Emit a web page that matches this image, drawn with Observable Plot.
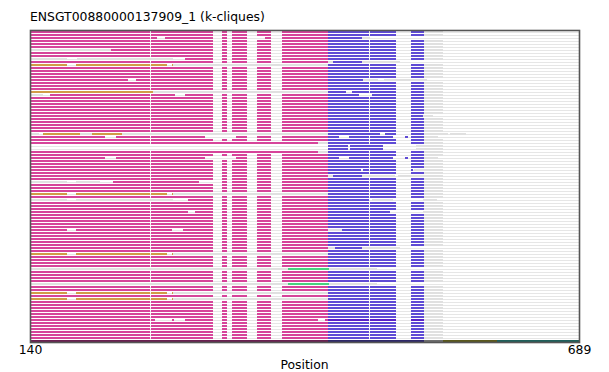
<!DOCTYPE html>
<html><head><meta charset="utf-8">
<script src="https://cdn.jsdelivr.net/npm/d3@7"></script>
<script src="https://cdn.jsdelivr.net/npm/@observablehq/plot@0.6"></script>
<style>
body{margin:0;background:#fff;font-family:"DejaVu Sans",sans-serif;}
#wrap{position:relative;width:609px;height:372px;overflow:hidden;}
#title{position:absolute;left:30px;top:11px;font-size:12.4px;line-height:12px;color:#000;white-space:nowrap;}
#xlabel{position:absolute;left:0;width:609px;text-align:center;top:359px;font-size:12.4px;line-height:12px;color:#000;}
#chart{position:absolute;left:0;top:0;}
</style></head><body>
<div id="wrap"><div id="chart"></div><div id="title">ENSGT00880000137909_1 (k-cliques)</div><div id="xlabel">Position</div></div>
<script>
const rowCount = 104;
const xTicks = [140, 689];
// standard clique blocks shared by most sequences
const stdPink = [[140,260],[261,323],[332,337],[342,357],[367,381],[392,438]];
const stdBlue = [[438,479],[480,506],[521,534]];
const stdGray = [[534,553]];
// rows with the orange clique at the start
const orangeRows = [11, 54, 74, 87, 89];
const orangeBlocks = [[140,177],[186,260],[261,277],[282,283]];
const orangeGray = [[283,438]];
// rows with the green clique
const greenRows = [79, 84];
const greenBlocks = [[398,439]];
const greenGray = [[140,398],[439,487]];
// rows that keep the standard pink (or blue) blocks but differ elsewhere
const keepPinkRows = [10, 46, 48, 72];
const keepBlueRows = [6, 9, 11, 37, 40, 50, 54, 74, 87, 89];
// other per-row segments: [row, start, end, clique]
const extraSegs = [
[2,140,260,"P"],[2,261,267,"P"],[2,275,323,"P"],[2,332,337,"P"],[2,342,357,"P"],[2,375,381,"P"],[2,392,438,"P"],[2,438,472,"B"],[2,472,480,"G"],
[6,140,221,"G"],[6,221,260,"P"],[6,261,323,"P"],[6,332,337,"P"],[6,342,357,"P"],[6,367,381,"P"],[6,392,438,"P"],
[9,140,177,"G"],[9,187,283,"G"],[9,295,323,"P"],[9,332,337,"P"],[9,342,357,"P"],[9,367,381,"P"],[9,392,438,"P"],
[10,438,443,"G"],[10,443,472,"B"],[10,472,510,"G"],
[16,140,238,"P"],[16,246,260,"P"],[16,261,323,"P"],[16,332,337,"P"],[16,342,357,"P"],[16,367,381,"P"],[16,392,438,"P"],[16,438,473,"B"],[16,473,488,"G"],[16,494,537,"G"],
[20,140,263,"O"],[20,263,438,"G"],[20,438,456,"B"],[20,462,479,"B"],[20,480,506,"B"],[20,521,534,"B"],[20,534,553,"G"],
[21,140,153,"G"],[21,160,260,"P"],[21,261,285,"P"],[21,295,323,"P"],[21,332,337,"P"],[21,342,357,"P"],[21,367,381,"P"],[21,392,438,"P"],[21,438,469,"B"],[21,482,506,"B"],[21,521,534,"B"],[21,534,553,"G"],
[28,140,260,"P"],[28,261,323,"P"],[28,332,337,"P"],[28,342,357,"P"],[28,367,381,"P"],[28,392,438,"P"],[28,438,479,"B"],[28,480,506,"B"],[28,521,533,"B"],[28,533,543,"G"],
[34,140,149,"G"],[34,153,190,"O"],[34,190,202,"G"],[34,202,232,"O"],[34,232,438,"G"],[34,438,490,"B"],[34,495,506,"B"],[34,521,534,"B"],[34,534,558,"G"],[34,560,576,"G"],
[35,140,215,"P"],[35,226,260,"P"],[35,261,315,"P"],[35,346,357,"P"],[35,367,381,"P"],[35,392,438,"P"],[35,438,449,"B"],[35,459,479,"B"],[35,480,503,"B"],[35,515,518,"B"],[35,521,534,"B"],[35,534,548,"G"],
[37,140,260,"P"],[37,261,428,"P"],[37,428,438,"G"],
[38,438,458,"B"],[38,460,493,"B"],[38,526,553,"G"],
[39,438,458,"B"],[39,460,493,"B"],[39,526,553,"G"],
[40,140,260,"P"],[40,261,428,"P"],[40,428,438,"G"],
[42,140,215,"P"],[42,226,260,"P"],[42,261,315,"P"],[42,346,357,"P"],[42,367,381,"P"],[42,392,438,"P"],[42,438,449,"B"],[42,459,479,"B"],[42,480,503,"B"],[42,515,518,"B"],[42,521,534,"B"],[42,534,548,"G"],
[46,438,471,"B"],[46,473,479,"B"],[46,480,506,"B"],[46,521,523,"B"],[46,524,553,"G"],
[48,438,443,"G"],[48,443,472,"B"],[48,472,505,"G"],[48,508,553,"G"],
[50,140,177,"G"],[50,186,210,"G"],[50,223,260,"P"],[50,261,309,"P"],[50,332,337,"P"],[50,342,357,"P"],[50,367,381,"P"],[50,392,438,"P"],
[56,140,177,"G"],[56,186,283,"G"],[56,298,323,"P"],[56,332,337,"P"],[56,342,357,"P"],[56,367,381,"P"],[56,392,438,"P"],[56,438,479,"B"],[56,482,503,"G"],[56,533,547,"G"],
[60,140,260,"P"],[60,261,298,"P"],[60,305,323,"P"],[60,332,337,"P"],[60,342,357,"P"],[60,367,381,"P"],[60,392,438,"P"],[60,438,479,"B"],[60,480,500,"B"],[60,533,553,"G"],
[66,140,177,"P"],[66,186,260,"P"],[66,261,282,"P"],[66,293,323,"P"],[66,332,337,"P"],[66,342,357,"P"],[66,367,381,"P"],[66,392,438,"P"],[66,438,452,"G"],[66,452,479,"B"],[66,480,506,"B"],[66,521,534,"B"],[66,534,553,"G"],
[72,438,445,"G"],[72,445,472,"B"],[72,472,510,"G"],
[96,140,260,"P"],[96,261,265,"P"],[96,282,284,"P"],[96,295,323,"P"],[96,332,337,"P"],[96,342,357,"P"],[96,367,381,"P"],[96,392,428,"P"],[96,435,438,"P"],[96,438,479,"V"],[96,480,506,"V"],[96,521,534,"V"],[96,534,553,"G"],
[103,140,438,"DP"],[103,438,534,"DB"],[103,534,553,"DG"],[103,553,607,"DO"],[103,607,689,"DT"]
];
const cliqueKeys = ["P","B","G","O","N","V","DP","DB","DG","DO","DT"];
const cliqueColors = ["#d6449a","#5f4bd5","#e0e0e0","#d29b47","#48d27f","#5a22c8","#6a2050","#2e2868","#6e6e6e","#5a581c","#1f5f5a"];

// assemble the segment table
const segs = [];
const custom = new Set([...orangeRows, ...greenRows, ...keepPinkRows, ...keepBlueRows, ...extraSegs.map(d => d[0])]);
const push = (row, list, c) => list.forEach(([s, e]) => segs.push({row, x1: s, x2: e, c}));
for (let r = 0; r < rowCount; r++) {
  if (!custom.has(r)) { push(r, stdPink, "P"); push(r, stdBlue, "B"); push(r, stdGray, "G"); continue; }
  if (keepPinkRows.includes(r)) push(r, stdPink, "P");
  if (keepBlueRows.includes(r)) { push(r, stdBlue, "B"); push(r, stdGray, "G"); }
  if (orangeRows.includes(r)) { push(r, orangeBlocks, "O"); push(r, orangeGray, "G"); }
  if (greenRows.includes(r)) { push(r, greenBlocks, "N"); push(r, greenGray, "G"); }
}
extraSegs.forEach(([row, s, e, c]) => segs.push({row, x1: s, x2: e, c}));
const rows = d3.range(rowCount);

const chart = Plot.plot({
  width: 609, height: 372,
  marginTop: 30, marginBottom: 30, marginLeft: 30, marginRight: 30,
  style: {fontFamily: "DejaVu Sans, sans-serif", fontSize: "12.4px", color: "#000", background: "#fff"},
  x: {domain: [140, 689]},
  y: {domain: rows, axis: null, padding: 0},
  color: {domain: cliqueKeys, range: cliqueColors},
  marks: [
    Plot.ruleY(rows, {y: d => d, x1: 140, x2: 689, stroke: "#e6e6e6", strokeWidth: 1, dy: 0.5}),
    Plot.barX(segs, {y: "row", x1: "x1", x2: "x2", fill: "c", insetTop: 1, insetBottom: 0, shapeRendering: "crispEdges"}),
    Plot.frame({stroke: "#555", strokeWidth: 1.6}),
    Plot.axisX(xTicks, {tickSize: 0, tickPadding: 3, label: null, fontSize: 12.4})
  ]
});
document.getElementById("chart").appendChild(chart);
</script>
</body></html>
